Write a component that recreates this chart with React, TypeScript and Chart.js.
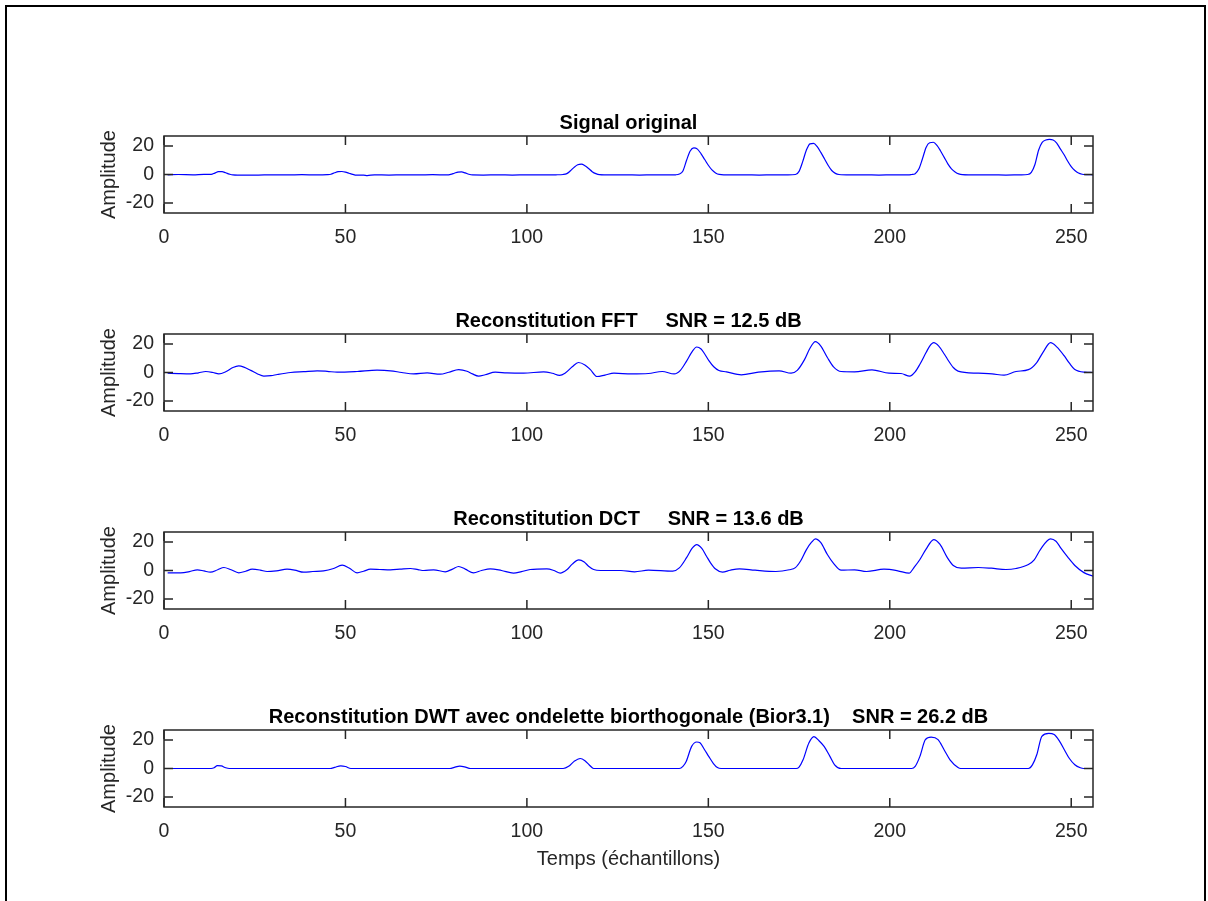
import React, { useEffect, useRef } from "react";
import { Chart, registerables } from "chart.js";

Chart.register(...registerables);

// ---------- Data ----------
const xTicks = [0, 50, 100, 150, 200, 250];
const yTicks = [-20, 0, 20];
const xMin = 0;
const xMax = 256;
const yMin = -27;
const yMax = 27;

const panelTitles = [
  "Signal original",
  "Reconstitution FFT     SNR = 12.5 dB",
  "Reconstitution DCT     SNR = 13.6 dB",
  "Reconstitution DWT avec ondelette biorthogonale (Bior3.1)    SNR = 26.2 dB",
];
const yLabel = "Amplitude";
const xLabel = "Temps (échantillons)";

const origX = [
  1, 4, 8, 11, 13, 14, 15, 16, 17, 18,
  19, 22, 26, 30, 34, 38, 42, 45, 46, 47,
  48, 49, 50, 51, 52, 53, 55, 56, 58, 62,
  66, 70, 74, 78, 79, 80, 81, 82, 83, 84,
  85, 88, 92, 96, 100, 104, 108, 110, 111, 112,
  113, 114, 115, 116, 117, 118, 119, 120, 123, 127,
  131, 135, 139, 141, 142, 143, 144, 145, 146, 147,
  148, 149, 150, 151, 152, 153, 156, 160, 164, 168,
  172, 174, 175, 176, 177, 178, 179, 180, 181, 182,
  183, 184, 185, 186, 189, 193, 197, 201, 205, 206,
  207, 208, 209, 210, 211, 212, 213, 214, 215, 216,
  217, 218, 219, 220, 224, 228, 232, 236, 238, 239,
  240, 241, 242, 243, 244, 245, 246, 247, 248, 249,
  250, 251, 252, 253, 254, 256,
];
const origY = [
  -0.2, 0, -0.2, 0.1, 0.1, 1, 2, 2, 1.2, 0.3,
  -0.3, -0.5, -0.4, -0.2, -0.3, -0.1, -0.3, -0.1, 0.2, 1.2,
  2, 2.1, 1.7, 0.9, 0.1, -0.5, -0.5, -0.8, -0.2, -0.4,
  -0.2, -0.3, -0.1, -0.3, 0.1, 0.9, 1.7, 1.8, 1.1, 0.2,
  -0.3, -0.4, -0.2, -0.4, -0.2, -0.3, -0.2, 0, 0.6, 2.6,
  5, 6.8, 7.3, 6.2, 4.2, 2, 0.6, -0.1, -0.3, -0.2,
  -0.4, -0.2, -0.3, -0.2, 0.3, 2.5, 10, 16.5, 18.7, 17.8,
  14.5, 10.5, 6.5, 3.2, 1.1, 0.1, -0.3, -0.2, -0.4, -0.2,
  -0.3, 0, 2.2, 9, 17, 21.5, 21.8, 19.5, 15.5, 11,
  6.5, 2.8, 0.8, 0, -0.3, -0.2, -0.4, -0.2, -0.3, 0,
  0.6, 3.8, 11, 19, 22.3, 22.6, 20.5, 16.5, 12, 7.5,
  4, 1.8, 0.4, -0.1, -0.3, -0.2, -0.4, -0.2, 0, 1.5,
  7, 17, 22.5, 24.2, 24.6, 24.2, 22, 18, 14, 9.5,
  5.5, 2.8, 1, 0.2, -0.1, -0.2,
];

const fftX = [
  1, 4, 7.3, 9.5, 11.5, 13.5, 15.1, 17, 19, 20.6,
  22, 23.9, 25.8, 27.5, 29.5, 31.2, 34.9, 38.5, 42.2, 45,
  47.7, 53.2, 58.7, 62.4, 65.5, 68.8, 72.5, 76.1, 78.5, 81.2,
  83.5, 85, 86.7, 88.5, 91.3, 94.5, 99.1, 104.6, 107, 109,
  110.5, 112.5, 114.2, 116, 117.5, 119.3, 121.5, 124, 128.8, 133.5,
  137.3, 140.6, 142.3, 144, 145.5, 146.8, 148, 149, 150.1, 151.5,
  152.9, 155, 159.1, 163.8, 169.5, 172.8, 174.5, 176.5, 178, 179.5,
  181, 182.8, 184.5, 186.6, 190.3, 195.1, 199.8, 203.1, 205.5, 207,
  208.3, 210, 211, 212.1, 213.5, 215, 215.9, 217.5, 218.8, 224.4,
  228.2, 231.5, 234.8, 238.2, 240.5, 242.3, 244.3, 246, 248.1, 249.5,
  250.9, 253.8, 256,
];
const fftY = [
  -0.5, -0.8, -1, -0.2, 0.7, 0, -1, 0.5, 3.5, 4.6,
  3.8, 1.5, -1, -2.5, -2.2, -1.4, 0, 0.6, 1.2, 0.8,
  0.2, 0.7, 1.6, 1.2, 0, -1, -0.3, -1.2, 0.2, 2,
  0.9, -1, -2.5, -1.6, 0.2, -0.3, -0.5, 0.5, -0.5, -2,
  -0.5, 4, 7, 5.3, 2, -2.8, -1.8, -0.5, -1, -0.7,
  0.7, -1, 1.5, 8, 14.5, 17.9, 16.5, 13, 8.5, 4,
  1.4, 0.5, -1.6, 0.2, 1.2, -0.5, 1.5, 9, 17, 21.6,
  18.5, 10.5, 4, 0.7, 0.5, 1.9, -0.5, -0.7, -2.6, 0.5,
  5.8, 14, 18.5, 20.9, 18.5, 13, 9.3, 3.5, 1, -0.5,
  -1, -1.9, 0.7, 2, 7, 14.5, 20.9, 18, 11.6, 6.5,
  2.3, 0.2, 0,
];

const dctX = [
  1, 4.6, 7, 9.2, 11, 12.8, 14.8, 16.5, 18.5, 20.6,
  22.5, 24.3, 26.5, 28.4, 31, 33.9, 36, 38.5, 41, 44,
  46.5, 49.1, 51, 53.2, 55, 56.9, 59.5, 62.4, 65, 67.9,
  70, 71.6, 74.3, 77.5, 79.5, 81.2, 83, 85.3, 87.5, 89.9,
  93, 96.3, 98.5, 100.9, 105.5, 107.5, 109.2, 111, 112.5, 114.3,
  115.8, 117, 118.4, 120.3, 125.9, 129.7, 133.5, 140.2, 142, 144,
  145.5, 146.8, 148.2, 149.5, 150.6, 152, 153.9, 156, 158.6, 162.9,
  168.6, 172.3, 174, 175.5, 177, 178.5, 179.5, 181, 182.8, 184.5,
  186.6, 190.3, 193.6, 198.4, 202.2, 205.3, 206.8, 208.3, 210, 212.1,
  213.8, 215.9, 217.5, 219.7, 224.4, 228, 232, 234.8, 238.2, 239.8,
  241.5, 244.3, 245.8, 247.2, 249, 251, 253.5, 256,
];
const dctY = [
  -1.6, -1.6, -0.8, 0.5, -0.3, -1.2, 0.5, 2.1, 0.5, -1.6,
  -0.5, 0.9, 0.3, -0.7, -0.2, 0.9, 0.3, -1.2, -0.7, -0.2,
  1.2, 3.7, 1.8, -1.6, -0.5, 0.9, 0.7, 0.5, 0.9, 1.4,
  0.6, 0, 0.5, -0.9, 1, 2.8, 1, -1.6, 0, 1.2,
  0, -1.8, -0.8, 0.7, 1.2, 0, -1.8, 0.5, 4.5, 7.5,
  6, 3, 0.7, 0, 0, -0.9, 0.2, -0.5, 1.8, 9,
  15.5, 18.2, 15.5, 10, 5.4, 1, -1.2, 0.2, 1.2, 0.2,
  -0.7, 0.5, 2, 7, 14.5, 20, 22.2, 19.5, 11.2, 5,
  0.2, 0.5, -0.7, 0.9, -0.2, -1.9, 2.5, 7.7, 15, 21.7,
  18.5, 8.9, 3.5, 1.6, 2.1, 1.6, 0.7, 1.4, 4.2, 7.5,
  14.7, 22.2, 20.5, 15.5, 9.5, 3.5, -1.5, -4,
];

const dwtX = [
  1, 13, 13.8, 14.7, 15.8, 17, 18, 45.8, 47, 48.7,
  50, 51.5, 78.8, 80, 81.5, 82.8, 84.5, 110, 111.5, 113,
  114.7, 116, 117.2, 118.4, 142, 143, 143.9, 145.4, 146.8, 147.7,
  149, 150.1, 151.4, 152.5, 153.5, 174.2, 175, 176.1, 177.7, 179.1,
  180.5, 181.9, 183.5, 184.8, 186.6, 206, 207, 208.3, 209.8, 211.4,
  213.3, 215, 216.6, 218.8, 219.5, 238.2, 239.3, 240.5, 241.9, 243.8,
  245.3, 246.8, 248.1, 249.5, 251, 252.5, 253.4, 256,
];
const dwtY = [
  0, 0, 0.5, 2, 1.8, 0.5, 0, 0, 0.8, 1.9,
  1.4, 0, 0, 0.8, 1.6, 1.2, 0, 0, 1.5, 5,
  7, 5.5, 2.5, 0, 0, 1.5, 4.9, 15.5, 18.6, 18,
  13, 8.5, 3.5, 0.7, 0, 0, 1, 6.1, 17.9, 22.4,
  19.5, 15.5, 8.5, 2.6, 0, 0, 1.5, 8.5, 20.2, 22,
  20.2, 13, 6.1, 0.7, 0, 0, 2.5, 9.6, 22.6, 24.6,
  23.8, 19, 13.2, 7, 2.6, 0.5, 0, 0,
];

const seriesX = [origX, fftX, dctX, dwtX];
const seriesY = [origY, fftY, dctY, dwtY];

// ---------- Layout / style ----------
const FONT = "'Liberation Sans', Arial, Helvetica, sans-serif";
const AXIS_COLOR = "#262626";
const LINE_COLOR = "#0000ff";
const PAGE_W = 1208;
const PLOT_TOPS = [136, 334, 532, 730];
const PLOT_H = 77;
const TITLE_H = 25; // 20px * 1.2 + 1 padding
const LEFT_PAD = 49;
const Y_AXIS_W = 115;
const TICK_LEN = 9;
const TICK_FONT = 19.5;

const axesBoxPlugin = {
  id: "axesBox",
  afterDraw(chart: any) {
    const { ctx, chartArea } = chart;
    const { left, top, right, bottom } = chartArea;
    const xs = chart.scales.x;
    const ys = chart.scales.y;
    ctx.save();
    ctx.strokeStyle = AXIS_COLOR;
    ctx.lineWidth = 1.5;
    ctx.beginPath();
    for (const t of xs.ticks) {
      const px = xs.getPixelForValue(t.value);
      ctx.moveTo(px, bottom);
      ctx.lineTo(px, bottom - TICK_LEN);
      ctx.moveTo(px, top);
      ctx.lineTo(px, top + TICK_LEN);
    }
    for (const t of ys.ticks) {
      const py = ys.getPixelForValue(t.value);
      ctx.moveTo(left, py);
      ctx.lineTo(left + TICK_LEN, py);
      ctx.moveTo(right, py);
      ctx.lineTo(right - TICK_LEN, py);
    }
    ctx.stroke();
    ctx.strokeRect(left, top, right - left, bottom - top);
    ctx.restore();
  },
};

type PanelProps = {
  index: number;
  showXLabel: boolean;
};

function Panel({ index, showXLabel }: PanelProps) {
  const ref = useRef<HTMLCanvasElement | null>(null);
  const bottomH = showXLabel ? 70 : 40;
  const height = TITLE_H + PLOT_H + bottomH;

  useEffect(() => {
    const xs = seriesX[index];
    const ys = seriesY[index];
    const points = xs.map((x, i) => ({ x, y: ys[i] }));
    const chart = new Chart(ref.current as HTMLCanvasElement, {
      type: "line",
      data: {
        datasets: [
          {
            data: points,
            borderColor: LINE_COLOR,
            borderWidth: 1.2,
            pointRadius: 0,
            fill: false,
            cubicInterpolationMode: "monotone",
          } as any,
        ],
      },
      options: {
        animation: false,
        responsive: false,
        events: [],
        layout: { padding: { left: LEFT_PAD, right: 0, top: 0, bottom: 0 } },
        plugins: {
          legend: { display: false },
          tooltip: { enabled: false },
          title: {
            display: true,
            text: panelTitles[index],
            color: "#000000",
            font: { family: FONT, size: 20, weight: "bold" },
            padding: { top: 0, bottom: 1 },
          },
        },
        scales: {
          x: {
            type: "linear",
            position: "bottom",
            min: xMin,
            max: xMax,
            afterBuildTicks: (axis: any) => {
              axis.ticks = xTicks.map((value) => ({ value }));
            },
            afterFit: (axis: any) => {
              axis.height = bottomH;
            },
            grid: { display: false, drawTicks: false, tickLength: 0 },
            border: { display: false },
            ticks: {
              autoSkip: false,
              maxRotation: 0,
              color: AXIS_COLOR,
              padding: 12.6,
              font: { family: FONT, size: TICK_FONT },
            },
            title: {
              display: showXLabel,
              text: xLabel,
              color: AXIS_COLOR,
              font: { family: FONT, size: 20 },
              padding: { top: 0, bottom: 5.3 },
            },
          },
          y: {
            type: "linear",
            position: "left",
            min: yMin,
            max: yMax,
            afterBuildTicks: (axis: any) => {
              axis.ticks = yTicks.map((value) => ({ value }));
            },
            afterFit: (axis: any) => {
              axis.width = Y_AXIS_W;
            },
            grid: { display: false, drawTicks: false, tickLength: 0 },
            border: { display: false },
            ticks: {
              color: AXIS_COLOR,
              padding: 10,
              font: { family: FONT, size: TICK_FONT },
            },
            title: {
              display: true,
              text: yLabel,
              color: AXIS_COLOR,
              font: { family: FONT, size: 20 },
              padding: { top: 48, bottom: 0 },
            },
          },
          y2: {
            type: "linear",
            position: "right",
            min: yMin,
            max: yMax,
            afterFit: (axis: any) => {
              axis.width = Y_AXIS_W;
            },
            grid: { display: false, drawTicks: false, tickLength: 0 },
            border: { display: false },
            ticks: { display: false },
          },
        },
      } as any,
      plugins: [axesBoxPlugin],
    });
    return () => chart.destroy();
  }, [index, showXLabel, bottomH]);

  return (
    <canvas
      ref={ref}
      width={PAGE_W}
      height={height}
      style={{
        position: "absolute",
        left: 0,
        top: PLOT_TOPS[index] - TITLE_H,
        width: PAGE_W,
        height,
      }}
    />
  );
}

export default function App() {
  return (
    <div
      style={{
        position: "fixed",
        left: 0,
        top: 0,
        width: PAGE_W,
        height: 901,
        background: "#ffffff",
        overflow: "hidden",
      }}
    >
      <div
        style={{
          position: "absolute",
          left: 5,
          top: 5,
          width: 1201,
          height: 920,
          border: "2px solid #000000",
          boxSizing: "border-box",
        }}
      />
      {[0, 1, 2, 3].map((i) => (
        <Panel key={i} index={i} showXLabel={i === 3} />
      ))}
    </div>
  );
}
